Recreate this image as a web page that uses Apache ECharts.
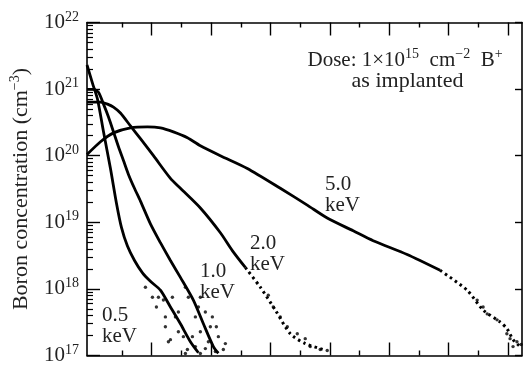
<!DOCTYPE html>
<html><head><meta charset="utf-8">
<script src="https://cdn.jsdelivr.net/npm/echarts@6/dist/echarts.min.js"></script>
<style>html,body{margin:0;padding:0;background:#fff}#c{width:523px;height:366px}</style>
</head><body><div id="c"></div>
<script>
// ---- data (depth in axis units, concentration in cm^-3) ----
const depth05 = [0, 0.93, 1.77, 2.78, 3.95, 4.96, 5.8, 6.81, 8.0, 9.34, 10.68, 12.36, 14.05, 15.73, 17.41, 18.76];
const conc05  = [2.3e21, 1.22e21, 7.05e20, 2.28e20, 6.43e19, 1.94e19, 8.4e18, 4.4e18, 2.67e18, 1.74e18, 1.30e18, 9.57e17, 5.35e17, 2.99e17, 1.61e17, 1.1e17];
const depth10 = [0, 1.09, 1.93, 2.78, 3.62, 4.46, 5.3, 6.14, 6.98, 7.99, 9.0, 10.68, 12.36, 14.05, 15.73, 17.91, 19.6, 21.28, 22.12];
const conc10  = [9.93e20, 9.93e20, 8.96e20, 5.95e20, 3.81e20, 2.28e20, 1.36e20, 8.46e19, 5.24e19, 3.24e19, 2.08e19, 9.47e18, 4.94e18, 2.67e18, 1.49e18, 6.79e17, 2.99e17, 1.36e17, 1.08e17];
const depth20 = [0, 1.43, 2.27, 3.45, 4.46, 5.63, 7.32, 9.0, 11.19, 14.05, 15.73, 19.09, 22.46, 24.47, 26.66];
const conc20  = [6.37e20, 6.37e20, 6.37e20, 5.95e20, 5.37e20, 4.37e20, 2.80e20, 1.80e20, 1.00e20, 4.57e19, 3.24e19, 1.64e19, 6.96e18, 3.76e18, 2.10e18];
const tailDepth20 = [26.66, 29.18, 31.71, 34.23, 36.75, 39.78];
const tailConc20  = [2.10e18, 1.06e18, 4.82e17, 2.12e17, 1.51e17, 1.23e17];
const depth50 = [0, 2.27, 4.46, 7.32, 10.18, 12.37, 14.55, 16.91, 19.09, 22.46, 27.0, 32.55, 37.09, 40.45, 44.83, 48.19, 53.91, 59.46];
const conc50  = [1.04e20, 1.62e20, 2.20e20, 2.62e20, 2.71e20, 2.62e20, 2.28e20, 1.86e20, 1.41e20, 1.00e20, 6.43e19, 3.24e19, 1.81e19, 1.16e19, 7.45e18, 5.29e18, 3.28e18, 1.90e18];
const tailDepth50 = [59.46, 64.0, 66.7, 69.55, 70.73, 71.74, 72.92];
const tailConc50  = [1.90e18, 9.57e17, 4.82e17, 3.2e17, 2.52e17, 1.73e17, 1.36e17];

// scattered tail points
const dotsDepth05 = [12.87, 12.03, 13.2, 14.38, 14.89, 15.39, 16.23, 14.05, 16.91, 18.25, 19.09, 13.2, 9.84, 11.02, 11.69, 15.39, 13.71, 17.75, 16.57];
const dotsConc05  = [6.8e17, 7.5e17, 3.8e17, 7.5e17, 3.8e17, 2.27e17, 1.92e17, 1.73e17, 1.23e17, 1.36e17, 1.07e17, 2.7e17, 1.06e18, 7.5e17, 5.35e17, 4.51e17, 1.61e17, 1.92e17, 1.07e17];
const dotsDepth10 = [17.07, 18.76, 18.25, 19.93, 19.09, 20.77, 20.44, 22.12, 21.61, 22.96, 16.57, 19.09, 21.11, 21.78, 19.93, 23.3];
const dotsConc10  = [7.5e17, 5.35e17, 3.8e17, 4.5e17, 2.27e17, 2.7e17, 1.61e17, 1.92e17, 1.15e17, 1.23e17, 1.06e18, 7.5e17, 3.8e17, 2.7e17, 1.27e17, 1.51e17];
const dotsDepth20 = [30.53, 31.37, 32.55, 33.73, 35.41, 36.75, 37.59, 39.27, 40.45];
const dotsConc20  = [8.06e17, 5.35e17, 3.8e17, 2.7e17, 2.12e17, 1.79e17, 1.36e17, 1.23e17, 1.19e17];
const dotsDepth50 = [65.7, 66.7, 67.4, 69.05, 70.7, 71.24, 72.4, 71.74, 73.1];
const dotsConc50  = [6.79e17, 5.35e17, 4.21e17, 3.43e17, 2.12e17, 1.79e17, 1.61e17, 1.36e17, 1.46e17];

// axis ticks
const xMajorTicks = [10.9, 20.9, 30.9, 40.9, 50.9, 60.9, 70.9];
const xMinorTicks = [5.9, 15.9, 25.9, 35.9, 45.9, 55.9, 65.9];
const yExponents = [17, 18, 19, 20, 21, 22];

const energyLabels = [
  {text: '0.5\nkeV', x: 102, y: 305},
  {text: '1.0\nkeV', x: 200, y: 261},
  {text: '2.0\nkeV', x: 250, y: 233},
  {text: '5.0\nkeV', x: 325, y: 174}
];

const FONT = '"Liberation Serif", "Times New Roman", serif';
const yMinorTicks = [];
for (let n = yExponents[0]; n < yExponents[yExponents.length - 1]; n++) {
  for (let k = 2; k <= 9; k++) yMinorTicks.push(n + Math.log10(k));
}

const zip = (a, b) => a.map((v, i) => [v, b[i]]);
const lineSeries = (d, c, dash) => ({
  type: 'line', xAxisIndex: 0, yAxisIndex: 0, data: zip(d, c),
  showSymbol: false, smooth: 0.25,
  lineStyle: {color: '#000', width: dash ? 3 : 2.8, type: dash ? [2.5, 3.5] : 'solid'}, clip: true
});
const dotSeries = (d, c) => ({
  type: 'scatter', xAxisIndex: 0, yAxisIndex: 0, data: zip(d, c),
  symbolSize: 3.4, itemStyle: {color: '#000'}, clip: true
});

const XMIN = 0, XMAX = 73.25;
const axisLineStyle = {show: true, onZero: false, lineStyle: {color: '#000', width: 1.6}};
function xAx(pos, ticks, len, showLine) {
  return {
    type: 'value', position: pos, min: XMIN, max: XMAX,
    axisLine: showLine ? axisLineStyle : {show: false, onZero: false},
    axisTick: {show: true, inside: true, length: len, customValues: ticks, lineStyle: {color: '#000', width: 1.4}},
    axisLabel: {show: false}, splitLine: {show: false}
  };
}

const chart = echarts.init(document.getElementById('c'), null, {renderer: 'canvas'});
chart.setOption({
  animation: false,
  backgroundColor: '#fff',
  grid: {left: 86.5, right: 1, top: 22.5, bottom: 7, containLabel: false},
  xAxis: [
    xAx('bottom', xMajorTicks, 13, true),
    xAx('bottom', xMinorTicks, 5, false),
    xAx('top', xMajorTicks, 13, true),
    xAx('top', xMinorTicks, 5, false)
  ],
  yAxis: [
    {
      type: 'log', logBase: 10, position: 'left', min: 1e17, max: 1e22,
      axisLine: axisLineStyle,
      axisTick: {show: true, inside: true, length: 13, lineStyle: {color: '#000', width: 1.4}},
      axisLabel: {
        margin: 8, fontFamily: FONT, color: '#000',
        formatter: v => '{b|10}{s|' + Math.round(Math.log10(v)) + '}',
        rich: {
          b: {fontSize: 21, fontFamily: FONT, color: '#222', lineHeight: 25},
          s: {fontSize: 14, fontFamily: FONT, color: '#222', verticalAlign: 'top', lineHeight: 15}
        }
      },
      splitLine: {show: false},
      name: '{n|Boron concentration (cm}{s|−3}{n|)}',
      nameLocation: 'middle', nameGap: 53,
      nameTextStyle: {
        rich: {
          n: {fontSize: 22, fontFamily: FONT, color: '#222', lineHeight: 26},
          s: {fontSize: 14, fontFamily: FONT, color: '#222', verticalAlign: 'top', lineHeight: 15}
        }
      }
    },
    {
      type: 'value', position: 'left', min: 17, max: 22,
      axisLine: {show: false, onZero: false},
      axisTick: {show: true, inside: true, length: 6, customValues: yMinorTicks, lineStyle: {color: '#000', width: 1.2}},
      axisLabel: {show: false}, splitLine: {show: false}
    },
    {
      type: 'value', position: 'right', min: 17, max: 22, interval: 1,
      axisLine: axisLineStyle,
      axisTick: {show: true, inside: true, length: 7, lineStyle: {color: '#000', width: 1.4}},
      axisLabel: {show: false}, splitLine: {show: false}
    }
  ],
  graphic: [
    {
      type: 'text', x: 307.5, y: 60,
      style: {
        text: '{n|Dose: 1×10}{s|15}{n|  cm}{s|−2}{n|  B}{s|+}',
        align: 'left', verticalAlign: 'middle', textAlign: 'left', textVerticalAlign: 'middle',
        rich: {
          n: {fontSize: 21, fontFamily: FONT, fill: '#222', color: '#222', lineHeight: 25},
          s: {fontSize: 14, fontFamily: FONT, fill: '#222', color: '#222', verticalAlign: 'top', lineHeight: 15}
        }
      }
    },
    {
      type: 'text', x: 407.5, y: 81,
      style: {
        text: 'as implanted', font: '22px ' + FONT, fill: '#222',
        align: 'center', verticalAlign: 'middle', textAlign: 'center', textVerticalAlign: 'middle'
      }
    }
  ].concat(energyLabels.map(l => ({
    type: 'text', x: l.x, y: l.y,
    style: {text: l.text, font: '21px ' + FONT, fill: '#222', lineHeight: 21, align: 'left', verticalAlign: 'top', textAlign: 'left', textVerticalAlign: 'top'}
  }))),
  series: [
    lineSeries(depth05, conc05),
    lineSeries(depth10, conc10),
    lineSeries(depth20, conc20),
    lineSeries(tailDepth20, tailConc20, true),
    lineSeries(depth50, conc50),
    lineSeries(tailDepth50, tailConc50, true),
    dotSeries(dotsDepth05, dotsConc05),
    dotSeries(dotsDepth10, dotsConc10),
    dotSeries(dotsDepth20, dotsConc20),
    dotSeries(dotsDepth50, dotsConc50)
  ]
});
</script>
</body></html>
